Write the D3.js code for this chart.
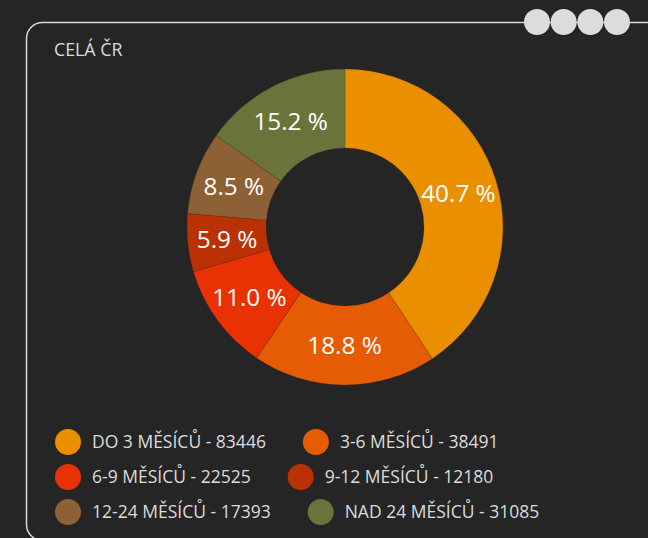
<!DOCTYPE html>
<html><head><meta charset="utf-8">
<script src="https://cdn.jsdelivr.net/npm/d3@7"></script>
<style>
html,body{margin:0;padding:0;background:#252525;}
svg{display:block;}
</style></head>
<body>
<svg id="c" width="648" height="538"></svg>
<script>
const title = "CELÁ ČR";
const categories = ["DO 3 MĚSÍCŮ", "3-6 MĚSÍCŮ", "6-9 MĚSÍCŮ", "9-12 MĚSÍCŮ", "12-24 MĚSÍCŮ", "NAD 24 MĚSÍCŮ"];
const values = [83446, 38491, 22525, 12180, 17393, 31085];
const colors = ["#E98F00", "#E65C04", "#E93203", "#BA3204", "#8E6035", "#6A733A"];

const svg = d3.select("#c");
const font = "'Open Sans', sans-serif";
const txt = "#dcdcdc";

// panel
svg.append("rect").attr("x", 26.5).attr("y", 22.5).attr("width", 700).attr("height", 518)
  .attr("rx", 16).attr("fill", "none").attr("stroke", "#d8d8d8").attr("stroke-width", 1.5);
// dots top right
const dots = [0,1,2,3];
const dx = d3.scaleLinear().domain([0,3]).range([537, 617]);
svg.selectAll("circle.dot").data(dots).join("circle").attr("class","dot")
  .attr("cx", d => dx(d)).attr("cy", 22).attr("r", 13).attr("fill", "#dcdcdc");

svg.append("text").attr("x", 54).attr("y", 56).text(title)
  .attr("font-family", font).attr("font-size", 17.8).attr("fill", txt);

// donut
const cx = 345, cy = 227, R = 158, r0 = 79;
const total = d3.sum(values);
const pie = d3.pie().sort(null).value(d => d)(values);
const arc = d3.arc().innerRadius(r0).outerRadius(R);
const g = svg.append("g").attr("transform", `translate(${cx},${cy})`);
g.selectAll("path").data(pie).join("path")
  .attr("d", arc).attr("fill", (d,i) => colors[i])
  .attr("stroke", "rgba(60,40,20,0.25)").attr("stroke-width", 0.8);
g.selectAll("text").data(pie).join("text")
  .attr("transform", d => `translate(${arc.centroid(d)})`)
  .attr("text-anchor", "middle").attr("dy", "0.36em")
  .attr("font-family", font).attr("font-size", 24.3).attr("fill", "#fff")
  .text(d => (d.value / total * 100).toFixed(1) + " %");

// legend (flow layout, 2 per row)
const rowsY = [442, 477, 512];
const leg = svg.append("g");
let x = 55;
categories.forEach((c, i) => {
  const row = Math.floor(i / 2);
  if (i % 2 === 0) x = 55;
  const y = rowsY[row];
  leg.append("circle").attr("cx", x + 13).attr("cy", y).attr("r", 13).attr("fill", colors[i]);
  const t = leg.append("text").attr("x", x + 37).attr("y", y).attr("dy", "0.36em")
    .attr("font-family", font).attr("font-size", 17.5).attr("fill", txt)
    .text(c + " - " + values[i]);
  x = x + 37 + t.node().getComputedTextLength() + 37;
});
</script>
</body></html>
